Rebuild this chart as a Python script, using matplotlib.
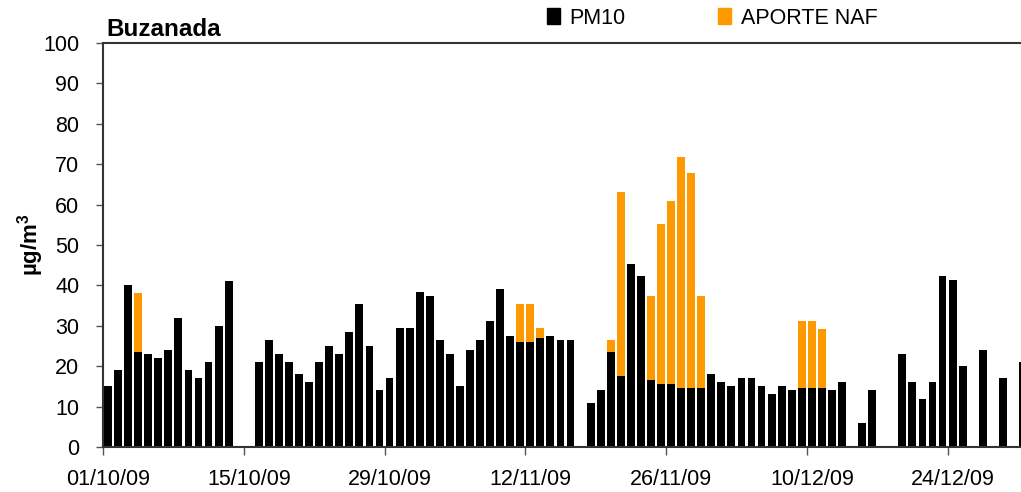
import numpy as np
import pandas as pd
import matplotlib
matplotlib.use("Agg")
import matplotlib.pyplot as plt
from matplotlib.patches import Patch

plt.rcParams['font.family'] = ['Liberation Sans', 'DejaVu Sans']
plt.rcParams['mathtext.fontset'] = 'custom'
plt.rcParams['mathtext.rm'] = 'Liberation Sans'
plt.rcParams['mathtext.bf'] = 'Liberation Sans:bold'

# Datos diarios 01/10/09 - 31/12/09 (nan = sin dato)
nan = np.nan
pm10 = [15, 19, 40, 23.5, 23, 22, 24, 32, 19, 17, 21, 30, 41, nan, nan,
        21, 26.5, 23, 21, 18, 16, 21, 25, 23, 28.4, 35.4, 25, 14, 17, 29.4, 29.4, 38.3,
        37.3, 26.4, 23, 15, 24, 26.4, 31.3, 39.2, 27.4, 26, 26, 26.9, 27.4, 26.4, 26.4, nan,
        11, 14, 23.6, 17.5, 45.2, 42.3, 16.5, 15.5, 15.5, 14.6, 14.6, 14.6, 18, 16, 15, 17,
        17, 15, 13, 15, 14, 14.6, 14.6, 14.6, 14, 16, nan, 6, 14, nan, nan, 23, 16, 12, 16,
        42.3, 41.3, 20, nan, 24, nan, 17, nan, 21]
# aporte natural (se apila sobre la barra negra)
naf = [0, 0, 0, 14.7, 0, 0, 0, 0, 0, 0, 0, 0, 0, 0, 0,
       0, 0, 0, 0, 0, 0, 0, 0, 0, 0, 0, 0, 0, 0, 0, 0, 0,
       0, 0, 0, 0, 0, 0, 0, 0, 0, 9.4, 9.4, 2.5, 0, 0, 0, 0,
       0, 0, 2.8, 45.5, 0, 0, 20.8, 39.6, 45.5, 57.3, 53.3, 22.7, 0, 0, 0, 0,
       0, 0, 0, 0, 0, 16.7, 16.7, 14.7, 0, 0, 0, 0, 0, 0, 0, 0, 0, 0, 0,
       0, 0, 0, 0, 0, 0, 0, 0, 0]

fechas = pd.date_range("2009-10-01", "2009-12-31", freq="D")
x = np.arange(len(fechas))
pm10 = np.array(pm10, dtype=float)
naf = np.array(naf, dtype=float)

W, H = 1021, 492
fig = plt.figure(figsize=(W / 100, H / 100), dpi=100)
ax = fig.add_axes([103 / W, 1 - 447 / H, (1028 - 103) / W, (447 - 43) / H])

ax.bar(x, pm10, width=0.78, color='black', label='PM10')
ax.bar(x, np.where(naf > 0, naf, nan), bottom=pm10, width=0.78, color='#FF9900', label='APORTE NAF')

ax.set_xlim(-0.5, len(x) - 0.5)
ax.set_ylim(0, 100)
ax.set_yticks(np.arange(0, 101, 10))

pos = x[::14]
ax.set_xticks(pos)
ax.set_xticklabels([d.strftime("%d/%m/%y") for d in fechas[::14]])
ax.set_xticks(pos - 0.5, minor=True)
ax.tick_params(axis='x', which='major', length=0, pad=16, labelsize=15.5)
ax.tick_params(axis='x', which='minor', length=6, width=1, color='#555555', direction='out')
ax.tick_params(axis='y', length=5, width=1, color='#555555', labelsize=15.5, pad=12)

for s in ['left', 'bottom', 'top']:
    ax.spines[s].set_color('#333333')
    ax.spines[s].set_linewidth(1.5)
ax.spines['right'].set_visible(False)

ax.set_ylabel(r'µg/m$^\mathbf{3}$', fontsize=16, fontweight='bold', labelpad=-2)
ax.text(0.004, 1.005, 'Buzanada', transform=ax.transAxes, fontsize=17.5,
        fontweight='bold', va='bottom', ha='left')

handles = [Patch(color='black', label='PM10'), Patch(color='#FF9900', label='APORTE NAF')]
fig.legend(handles=handles, ncol=2, loc='center left', bbox_to_anchor=(538 / W, 1 - 18 / H),
           frameon=False, fontsize=15.5, handlelength=0.6, handleheight=0.8,
           handletextpad=0.45, columnspacing=4.3, borderaxespad=0)

fig.savefig('out.png', dpi=100)
